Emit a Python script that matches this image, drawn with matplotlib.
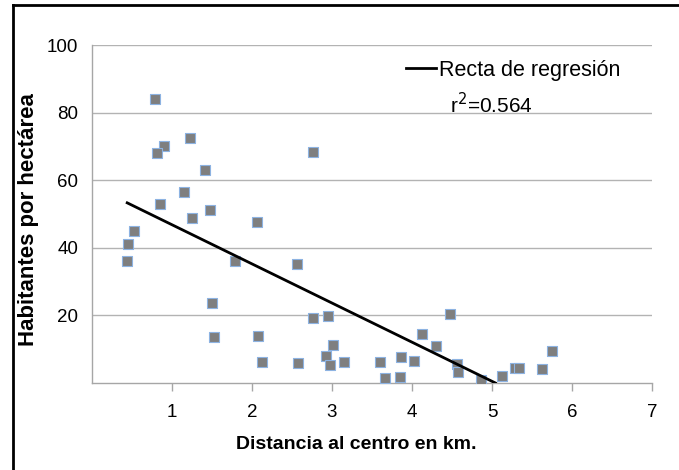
import numpy as np
import matplotlib
matplotlib.use('Agg')
import matplotlib.pyplot as plt
from matplotlib.lines import Line2D

plt.rcParams['font.family'] = ['Liberation Sans', 'DejaVu Sans']

# distancia al centro (km) y habitantes por hectárea
distancia = [0.79, 0.90, 0.81, 1.22, 2.76, 1.41, 1.15, 0.85, 1.48, 1.25,
             2.06, 0.52, 0.45, 0.44, 1.79, 2.56, 1.50, 2.76, 2.95, 1.52,
             2.07, 3.01, 2.92, 2.97, 3.15, 2.12, 2.57, 3.60, 3.66, 3.86,
             3.85, 4.03, 4.12, 4.30, 4.47, 4.56, 4.57, 4.86, 5.13, 5.29,
             5.34, 5.63, 5.75]
habitantes = [84.1, 70.0, 67.9, 72.4, 68.2, 63.1, 56.6, 53.0, 51.2, 48.9,
              47.7, 45.1, 41.0, 36.2, 36.1, 35.2, 23.6, 19.2, 19.8, 13.5,
              13.9, 11.1, 8.0, 5.4, 6.3, 6.2, 5.9, 6.3, 1.4, 7.8,
              1.7, 6.4, 14.6, 10.9, 20.4, 5.7, 3.4, 0.8, 2.1, 4.3,
              4.3, 4.2, 9.5]

# recta de regresión
reg_intercept = 58.4
reg_slope = -11.58
r2_text = 'r$^2$=0.564'

xticks = [1, 2, 3, 4, 5, 6, 7]
yticks = [20, 40, 60, 80, 100]

fig = plt.figure(figsize=(6.79, 4.70), dpi=100, facecolor='white')
ax = fig.add_axes([92 / 679, 1 - 383 / 470, 560 / 679, 338 / 470])

ax.scatter(distancia, habitantes, marker='s', s=62, facecolor='#7f7f7f',
           edgecolor='#8db3e2', linewidth=0.8, zorder=3)

x_end = -reg_intercept / reg_slope
xr = np.array([min(distancia), x_end])
ax.plot(xr, reg_intercept + reg_slope * xr, color='black', linewidth=2,
        zorder=4, label='Recta de regresión')

ax.set_xlim(0, 7)
ax.set_ylim(0, 100)
ax.set_xticks(xticks)
ax.set_yticks(yticks)
ax.tick_params(axis='x', length=6, color='#a6a6a6', width=1, labelsize=13.5, pad=9)
ax.tick_params(axis='y', length=0, labelsize=13.5, pad=10)
ax.yaxis.grid(True, color='#b3b3b3', linewidth=1)
ax.set_axisbelow(True)
for side in ['top', 'right']:
    ax.spines[side].set_visible(False)
for side in ['left', 'bottom']:
    ax.spines[side].set_color('#a6a6a6')
    ax.spines[side].set_linewidth(1)

ax.set_xlabel('Distancia al centro en km.', fontsize=14, fontweight='bold')
ax.xaxis.set_label_coords((356 - 92) / 560, -(436 - 383) / 338)
ax.set_ylabel('Habitantes por hectárea', fontsize=16, fontweight='bold')
ax.yaxis.set_label_coords(-(92 - 39) / 560, (383 - 220) / 338)

leg = ax.legend(loc='upper left', bbox_to_anchor=(0.560, 0.957), frameon=False,
                fontsize=15.5, handlelength=1.4, handletextpad=0.15,
                borderpad=0, borderaxespad=0)
ax.text(0.64, 0.823, r2_text, transform=ax.transAxes, fontsize=15, va='center')

# marco exterior
fig.add_artist(Line2D([13 / 679, 13 / 679], [0, 1 - 5 / 470], color='black', linewidth=2))
fig.add_artist(Line2D([13 / 679, 1], [1 - 5 / 470, 1 - 5 / 470], color='black', linewidth=2))

fig.savefig('out.png', dpi=100)
